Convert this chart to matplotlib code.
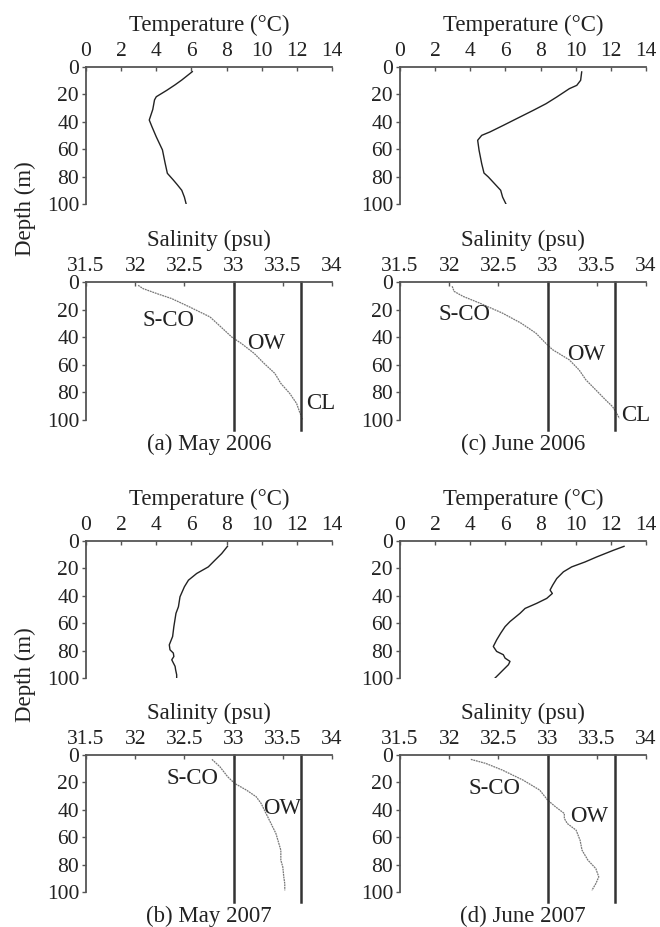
import matplotlib
matplotlib.use("Agg")
import matplotlib.pyplot as plt

plt.rcParams['font.family'] = ['Liberation Serif', 'DejaVu Serif']

# temperature profiles (depth m, temperature degC)
t_a_depth = [3.4, 9.5, 13, 17, 21.7, 24, 31, 38.7, 43.5, 51, 60.5, 70, 77.6, 82.5, 86, 90, 95, 100]
t_a_temp = [6.05, 5.45, 5.07, 4.6, 4.0, 3.9, 3.8, 3.6, 3.75, 4.0, 4.35, 4.5, 4.63, 4.97, 5.2, 5.45, 5.6, 5.7]

t_c_depth = [3.6, 9.7, 13.4, 15.8, 21.9, 26.8, 31.6, 37.7, 42.6, 47.4, 49.9, 53.5, 60.8, 70.6, 77.4, 80.3, 85, 90, 95, 100]
t_c_temp = [10.34, 10.28, 10.06, 9.64, 8.92, 8.31, 7.59, 6.64, 5.88, 5.12, 4.65, 4.42, 4.5, 4.65, 4.78, 5.03, 5.37, 5.73, 5.84, 6.03]

t_b_depth = [3.9, 9.2, 14, 18.9, 23.7, 28.6, 33.4, 40.7, 48, 52.8, 62.5, 69.7, 75.8, 79.4, 81.8, 84.3, 86.7, 89, 91.5, 94, 97.6, 100]
t_b_temp = [8.05, 7.72, 7.34, 6.96, 6.3, 5.83, 5.6, 5.35, 5.26, 5.12, 5.0, 4.93, 4.74, 4.78, 4.97, 5.0, 4.88, 4.97, 5.07, 5.1, 5.16, 5.16]

t_d_depth = [3.9, 6.8, 11.6, 15.3, 18.9, 22.5, 27.4, 32.2, 35.8, 38.3, 41.9, 45.5, 49.2, 52.8, 58.8, 62.5, 67.3, 72.2, 77, 80.6, 83, 85.5, 87.9, 90.3, 94, 97.6, 100]
t_d_temp = [12.75, 12.14, 11.2, 10.53, 9.77, 9.3, 8.92, 8.69, 8.54, 8.67, 8.35, 7.78, 7.12, 6.83, 6.26, 5.98, 5.73, 5.5, 5.31, 5.5, 5.88, 5.98, 6.26, 6.17, 5.88, 5.6, 5.41]

# salinity profiles (depth m, salinity psu)
s_a_depth = [2.4, 4.8, 8.4, 12, 18, 25.3, 32.5, 39.8, 44.6, 51.8, 59, 66.3, 73.5, 80.7, 88, 94, 99.5]
s_a_sal = [32.03, 32.08, 32.22, 32.37, 32.55, 32.76, 32.87, 32.98, 33.08, 33.21, 33.31, 33.42, 33.48, 33.57, 33.64, 33.67, 33.7]

s_c_depth = [3.1, 6.8, 10.4, 15.3, 22.5, 29.8, 37, 44.3, 49, 56.4, 63.7, 71, 78.2, 85.5, 90.3, 95, 98.8]
s_c_sal = [32.03, 32.05, 32.14, 32.31, 32.54, 32.73, 32.88, 32.98, 33.05, 33.22, 33.32, 33.39, 33.49, 33.59, 33.66, 33.7, 33.73]

s_b_depth = [3.2, 8.5, 15.9, 20.7, 25.6, 30.5, 35.4, 42.7, 50, 57.3, 64.6, 69.5, 76.8, 81.7, 89, 93.9, 98.8]
s_b_sal = [32.78, 32.86, 32.94, 33.01, 33.13, 33.23, 33.28, 33.33, 33.38, 33.43, 33.46, 33.48, 33.48, 33.5, 33.51, 33.52, 33.52]

s_d_depth = [3.2, 6.1, 11, 18.3, 25.6, 32.9, 37.8, 42.7, 46.3, 50, 54.9, 62.2, 69.5, 76.8, 82.9, 89, 93.9, 98.8]
s_d_sal = [32.22, 32.37, 32.54, 32.75, 32.92, 33.0, 33.08, 33.17, 33.17, 33.2, 33.29, 33.33, 33.35, 33.41, 33.49, 33.52, 33.49, 33.45]

boundaries = [33.0, 33.68]

# water mass labels: (text, salinity, depth, ha)
labels_a = [("S-CO", 32.34, 27.7, "center"), ("OW", 33.33, 44.6, "center"), ("CL", 33.74, 88, "left")]
labels_c = [("S-CO", 32.16, 23.7, "center"), ("OW", 33.39, 52.8, "center"), ("CL", 33.75, 96.9, "left")]
labels_b = [("S-CO", 32.58, 17, "center"), ("OW", 33.49, 39, "center")]
labels_d = [("S-CO", 32.46, 24.4, "center"), ("OW", 33.42, 45, "center")]

captions = ["(a) May 2006", "(c) June 2006", "(b) May 2007", "(d) June 2007"]

fig = plt.figure(figsize=(6.6, 9.27), dpi=100)

W = 660.0
H = 927.0
col_x = [86, 400]
ax_w = 246
rows = [(67, 204), (282, 420), (541, 678), (755, 892)]

spine_col = "#555555"
txt_col = "#222222"


def style_axis(ax, xlim, xticks, xticklabels, xlabel):
    ax.set_xlim(*xlim)
    ax.set_ylim(100, 0)
    ax.xaxis.tick_top()
    ax.xaxis.set_label_position("top")
    ax.set_xticks(xticks)
    ax.set_xticklabels(xticklabels)
    ax.set_yticks([0, 20, 40, 60, 80, 100])
    ax.spines["right"].set_visible(False)
    ax.spines["bottom"].set_visible(False)
    ax.spines["top"].set_color(spine_col)
    ax.spines["left"].set_color(spine_col)
    ax.spines["top"].set_linewidth(1.3)
    ax.spines["left"].set_linewidth(1.3)
    ax.tick_params(axis="x", direction="in", length=3, width=1, color=spine_col,
                   labelsize=15.5, pad=4, labelcolor=txt_col)
    ax.tick_params(axis="y", direction="out", length=3, width=1, color=spine_col,
                   labelsize=15.5, pad=2, labelcolor=txt_col)
    ax.set_xlabel(xlabel, fontsize=16.5, labelpad=8, color=txt_col)


temps = [(t_a_temp, t_a_depth), (t_c_temp, t_c_depth), (t_b_temp, t_b_depth), (t_d_temp, t_d_depth)]
sals = [(s_a_sal, s_a_depth), (s_c_sal, s_c_depth), (s_b_sal, s_b_depth), (s_d_sal, s_d_depth)]
labs = [labels_a, labels_c, labels_b, labels_d]

for i in range(4):
    col = i % 2
    half = i // 2
    x0 = col_x[col]
    tr = rows[half * 2]
    sr = rows[half * 2 + 1]

    axt = fig.add_axes([x0 / W, 1 - tr[1] / H, ax_w / W, (tr[1] - tr[0]) / H])
    style_axis(axt, (0, 14), [0, 2, 4, 6, 8, 10, 12, 14],
               ["0", "2", "4", "6", "8", "10", "12", "14"], "Temperature (°C)")
    axt.plot(temps[i][0], temps[i][1], color="#222222", lw=1.0)

    axs = fig.add_axes([x0 / W, 1 - sr[1] / H, ax_w / W, (sr[1] - sr[0]) / H])
    style_axis(axs, (31.5, 34), [31.5, 32, 32.5, 33, 33.5, 34],
               ["31.5", "32", "32.5", "33", "33.5", "34"], "Salinity (psu)")
    axs.plot(sals[i][0], sals[i][1], color="#777777", lw=0.9, ls=(0, (1.5, 0.6)))
    for b in boundaries:
        axs.plot([b, b], [0, 107], color="#333333", lw=1.8, clip_on=False)
    for txt, sx, dy, ha in labs[i]:
        axs.text(sx, dy, txt, fontsize=16.5, ha=ha, va="center", color=txt_col)

    fig.text((x0 + ax_w / 2) / W, 1 - (sr[1] + 30) / H, captions[i],
             fontsize=16.5, ha="center", va="baseline", color=txt_col)

fig.text(25 / W, 1 - 209 / H, "Depth (m)", rotation=90, fontsize=16.5,
         ha="center", va="center", color=txt_col)
fig.text(25 / W, 1 - 675 / H, "Depth (m)", rotation=90, fontsize=16.5,
         ha="center", va="center", color=txt_col)

fig.savefig("out.png", dpi=100)
